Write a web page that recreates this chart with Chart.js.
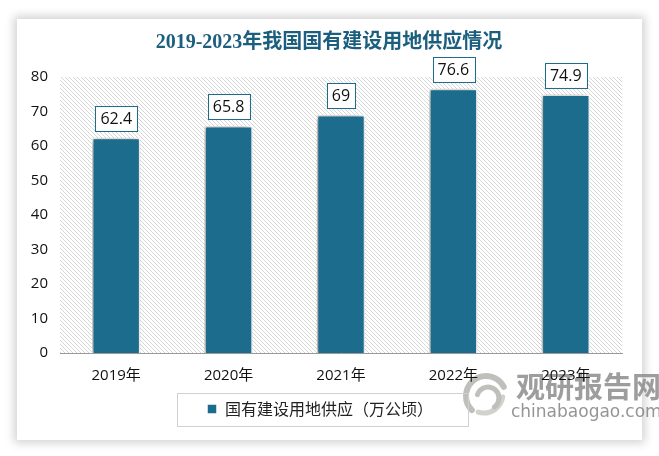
<!DOCTYPE html>
<html>
<head>
<meta charset="utf-8">
<script src="https://cdn.jsdelivr.net/npm/chart.js@4.4.1/dist/chart.umd.min.js"></script>
<style>
  html, body { margin: 0; padding: 0; background: #fff; }
  #wrap { position: relative; width: 659px; height: 456px; }
  #card {
    position: absolute; left: 17px; top: 19px; width: 625px; height: 421px;
    background: #fff; box-shadow: 0 0 9px 3px rgba(0,0,0,0.18);
  }
  #c { position: absolute; left: 0; top: 0; }
</style>
</head>
<body>
<div id="wrap">
  <div id="card"></div>
  <canvas id="c" width="659" height="456"></canvas>
</div>
<script>
// 2019-2023年我国国有建设用地供应情况 — bar chart

// ─── Data ────────────────────────────────────────────────────────────────────

const years = ['2019年', '2020年', '2021年', '2022年', '2023年'];
const supply = [62.4, 65.8, 69, 76.6, 74.9];
const seriesName = '国有建设用地供应（万公顷）';
const yTicks = [0, 10, 20, 30, 40, 50, 60, 70, 80];

const BAR = '#1c6c8e';
const NUM_FONT = "'Open Sans', 'Noto Sans CJK SC', sans-serif";

// ─── Hatch pattern for plot background ───────────────────────────────────────

function makeHatch() {
  const t = document.createElement('canvas');
  t.width = 4; t.height = 4;
  const g = t.getContext('2d');
  g.strokeStyle = '#d6d6d6';
  g.lineWidth = 1;
  g.beginPath();
  g.moveTo(-1, -1); g.lineTo(5, 5);
  g.moveTo(-1, 3); g.lineTo(1, 5);
  g.moveTo(3, -1); g.lineTo(5, 1);
  g.stroke();
  return g.createPattern(t, 'repeat');
}

// ─── Plugins ─────────────────────────────────────────────────────────────────

const backdrop = {
  id: 'backdrop',
  afterLayout(chart) {
    // nudge title to the right like the original
    chart.titleBlock.left += 9;
    chart.titleBlock.right += 9;
  },
  beforeDraw(chart) {
    const { ctx, chartArea: a } = chart;
    ctx.save();
    ctx.fillStyle = makeHatch();
    ctx.fillRect(a.left, a.top, a.right - a.left, a.bottom - a.top);
    ctx.restore();
    drawWatermark(ctx);
  },
  beforeDatasetsDraw(chart) {
    const ctx = chart.ctx;
    ctx.save();
    ctx.shadowColor = 'rgba(0,0,0,0.45)';
    ctx.shadowBlur = 7;
    ctx.shadowOffsetX = -2;
    ctx.shadowOffsetY = 1;
  },
  afterDatasetsDraw(chart) {
    const ctx = chart.ctx;
    ctx.restore();
    // value boxes
    const meta = chart.getDatasetMeta(0);
    ctx.save();
    ctx.font = '16px ' + NUM_FONT;
    ctx.textAlign = 'center';
    ctx.textBaseline = 'middle';
    meta.data.forEach((bar, i) => {
      const txt = String(supply[i]);
      const w = ctx.measureText(txt).width + 10;
      const h = 25;
      const x = bar.x - w / 2;
      const y = bar.y - 7 - h;
      ctx.fillStyle = '#fff';
      ctx.fillRect(x, y, w, h);
      ctx.strokeStyle = BAR;
      ctx.lineWidth = 1;
      ctx.strokeRect(Math.round(x) + 0.5, Math.round(y) + 0.5, Math.round(w), h);
      ctx.fillStyle = '#111';
      ctx.fillText(txt, bar.x, y + h / 2 + 1);
    });
    ctx.restore();
  },
  afterDraw(chart) {
    // frame round the legend
    const lg = chart.legend;
    const hb = lg.legendHitBoxes[0];
    if (!hb) return;
    const ctx = chart.ctx;
    ctx.save();
    ctx.strokeStyle = '#d0d0d0';
    ctx.lineWidth = 1;
    const cy = hb.top + hb.height / 2;
    ctx.strokeRect(Math.round(hb.left - 30) + 0.5, Math.round(cy - 16) + 0.5,
      Math.round(hb.width + 65), 33);
    ctx.restore();
  },
};

function drawWatermark(ctx) {
  ctx.save();
  // swirl logo
  ctx.lineCap = 'round';
  ctx.strokeStyle = 'rgba(170,170,165,0.75)';
  ctx.lineWidth = 6;
  ctx.beginPath();
  ctx.arc(486, 396, 20, Math.PI * 0.75, Math.PI * 1.85);
  ctx.stroke();
  ctx.lineWidth = 5;
  ctx.beginPath();
  ctx.arc(488, 398, 11, Math.PI * 1.1, Math.PI * 2.3);
  ctx.stroke();
  ctx.strokeStyle = 'rgba(190,190,185,0.7)';
  ctx.lineWidth = 5;
  ctx.beginPath();
  ctx.arc(484, 394, 19, Math.PI * 0.05, Math.PI * 0.6);
  ctx.stroke();
  // text
  ctx.fillStyle = 'rgba(140,140,140,0.85)';
  ctx.font = "bold 29px 'Noto Sans CJK SC', sans-serif";
  ctx.textBaseline = 'middle';
  ctx.textAlign = 'left';
  ctx.fillText('观研报告网', 516, 387);
  ctx.fillStyle = 'rgba(130,130,130,0.85)';
  ctx.font = "17px 'DejaVu Sans', sans-serif";
  ctx.fillText('chinabaogao.com', 511, 413);
  ctx.restore();
}

// ─── Chart ───────────────────────────────────────────────────────────────────

new Chart(document.getElementById('c'), {
  type: 'bar',
  data: {
    labels: years,
    datasets: [{
      label: seriesName,
      data: supply,
      backgroundColor: BAR,
      borderColor: '#ffffff',
      borderWidth: 1.5,
      categoryPercentage: 1,
      barPercentage: 0.43,
    }],
  },
  plugins: [backdrop],
  options: {
    responsive: false,
    animation: false,
    devicePixelRatio: 1,
    layout: { padding: { left: 18, right: 37, top: 0, bottom: 29 } },
    plugins: {
      title: {
        display: true,
        text: '2019-2023年我国国有建设用地供应情况',
        color: '#1b5e7e',
        font: { family: "'Liberation Serif', 'Noto Sans CJK SC', serif", size: 20, weight: 'bold' },
        padding: { top: 31, bottom: 22 },
      },
      legend: {
        position: 'bottom',
        labels: {
          boxWidth: 10,
          boxHeight: 10,
          color: '#222',
          font: { family: "'Noto Sans CJK SC', sans-serif", size: 16 },
          padding: 2,
        },
      },
      tooltip: { enabled: false },
    },
    scales: {
      x: {
        grid: { display: false, drawTicks: false },
        border: { display: true, color: '#999', width: 1 },
        ticks: { color: '#111', font: { family: NUM_FONT, size: 15 }, padding: 14 },
      },
      y: {
        min: 0,
        max: 80,
        afterFit(scale) { scale.width = 42; },
        afterBuildTicks(scale) { scale.ticks = yTicks.map((v) => ({ value: v })); },
        grid: { display: false, drawTicks: false },
        border: { display: false },
        ticks: { color: '#111', font: { family: NUM_FONT, size: 15 }, padding: 12 },
      },
    },
  },
});
</script>
</body>
</html>
